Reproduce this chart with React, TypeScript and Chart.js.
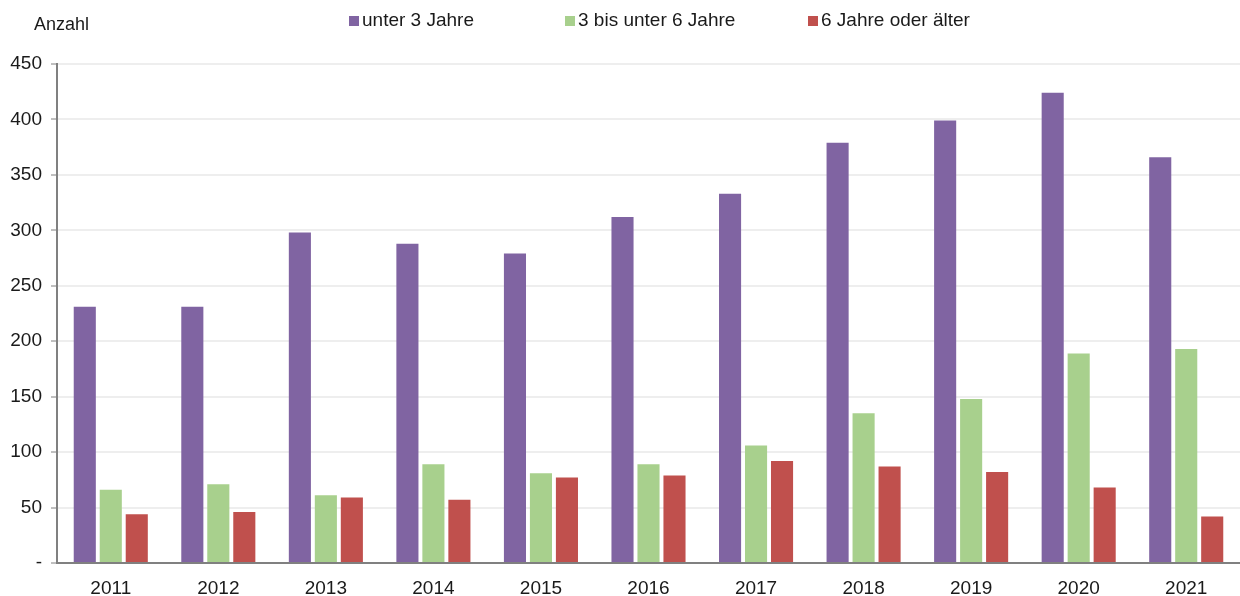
import React, { useEffect, useRef } from "react";
import { Chart, registerables } from "chart.js";

Chart.register(...registerables);

const years = ["2011", "2012", "2013", "2014", "2015", "2016", "2017", "2018", "2019", "2020", "2021"];
const under3 = [231, 231, 298, 288, 279, 312, 333, 379, 399, 424, 366];
const from3to6 = [66, 71, 61, 89, 81, 89, 106, 135, 148, 189, 193];
const over6 = [44, 46, 59, 57, 77, 79, 92, 87, 82, 68, 42];
const seriesLabels = ["unter 3 Jahre", "3 bis unter 6 Jahre", "6 Jahre oder älter"];
const seriesColors = ["#8064A2", "#A8D08D", "#C0504D"];
const legendX = [349, 565, 808];
const yAxisTitle = "Anzahl";

const FONT = "'Liberation Sans', Arial, sans-serif";

const overlayPlugin = {
  id: "overlay",
  afterDraw(chart: any) {
    const ctx = chart.ctx;
    ctx.save();
    ctx.fillStyle = "#1a1a1a";
    ctx.textBaseline = "middle";
    ctx.textAlign = "left";
    ctx.font = `18px ${FONT}`;
    ctx.fillText(yAxisTitle, 34, 25);
    ctx.font = `19px ${FONT}`;
    seriesLabels.forEach((lab, i) => {
      const x = legendX[i];
      ctx.fillStyle = seriesColors[i];
      ctx.fillRect(x, 16, 10, 10);
      ctx.fillStyle = "#1a1a1a";
      ctx.fillText(lab, x + 13, 21);
    });
    ctx.restore();
  },
};

export default function App() {
  const ref = useRef<HTMLCanvasElement>(null);
  useEffect(() => {
    const chart = new Chart(ref.current!, {
      type: "bar",
      data: {
        labels: years,
        datasets: [under3, from3to6, over6].map((d, i) => ({
          label: seriesLabels[i],
          data: d,
          backgroundColor: seriesColors[i],
          borderWidth: 0,
          categoryPercentage: 0.725,
          barPercentage: 0.85,
        })),
      },
      options: {
        animation: false,
        responsive: false,
        maintainAspectRatio: false,
        layout: { padding: { top: 64, right: 0, left: 0, bottom: 0 } },
        plugins: { legend: { display: false }, tooltip: { enabled: false }, title: { display: false } },
        scales: {
          x: {
            grid: { display: false },
            border: { display: true, color: "#808080", width: 2 },
            ticks: { color: "#1a1a1a", font: { family: FONT, size: 19 }, padding: 6 },
            afterFit: (s: any) => { s.height = 33; },
          },
          y: {
            min: 0,
            max: 450,
            ticks: {
              stepSize: 50,
              color: "#1a1a1a",
              font: { family: FONT, size: 19 },
              padding: 9,
              callback: (v: any) => (v === 0 ? "-" : String(v)),
            },
            grid: { color: "#eeeeee", lineWidth: 2, tickColor: "#808080", tickLength: 6, tickWidth: 1 },
            border: { display: true, color: "#808080", width: 2 },
            afterFit: (s: any) => { s.width = 57; },
          },
        },
      },
      plugins: [overlayPlugin],
    });
    return () => chart.destroy();
  }, []);
  return (
    <div style={{ position: "fixed", left: 0, top: 0, width: 1240, height: 596, background: "#fff" }}>
      <canvas ref={ref} width={1240} height={596} style={{ display: "block" }} />
    </div>
  );
}
